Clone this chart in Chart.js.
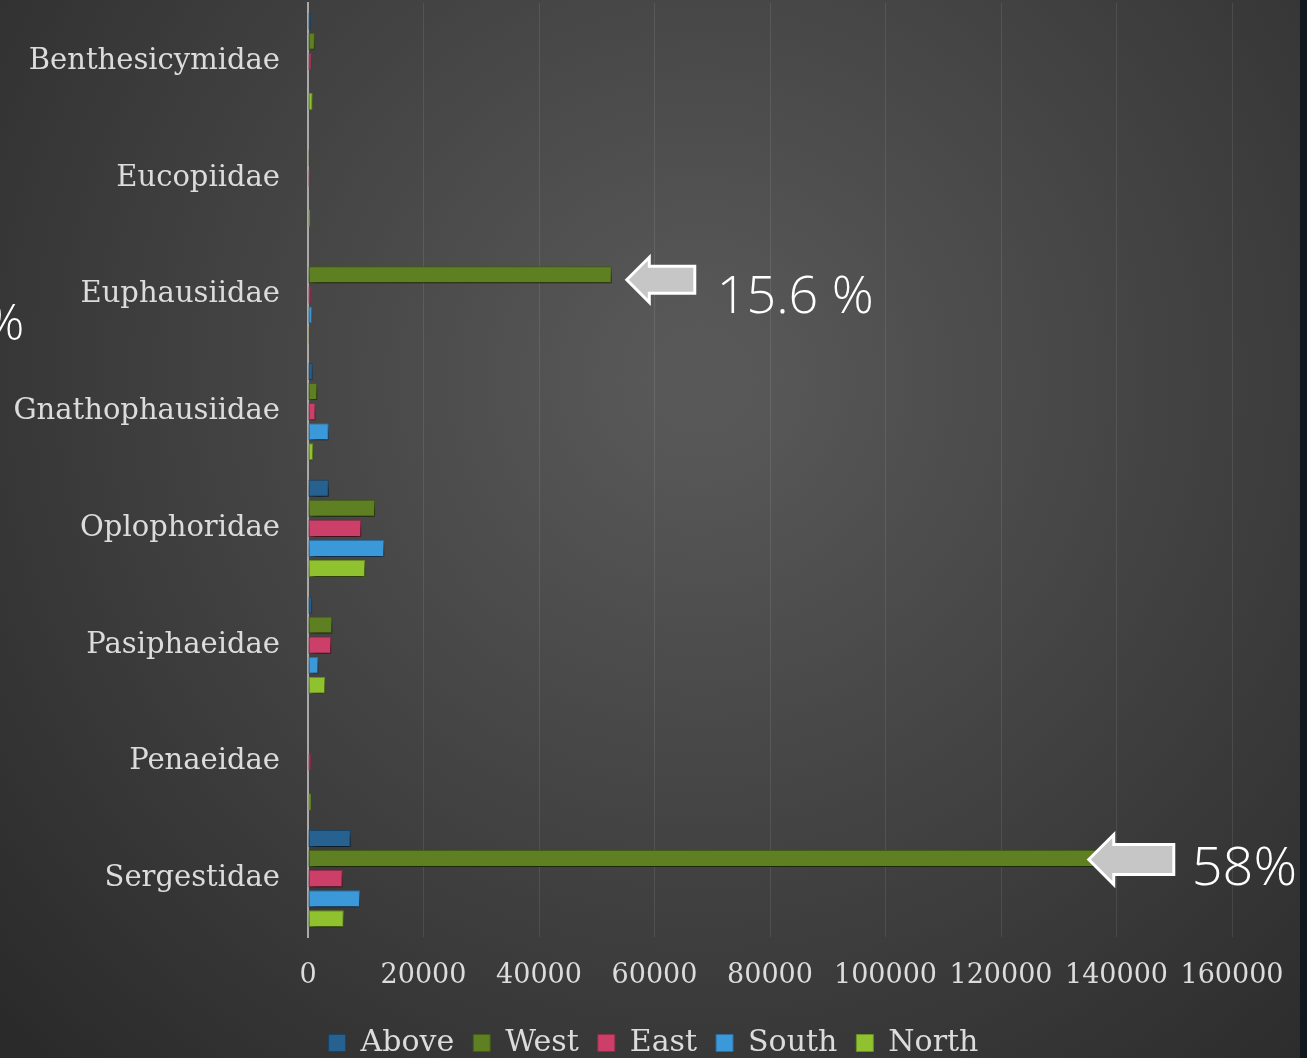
<!DOCTYPE html>
<html>
<head>
<meta charset="utf-8">
<script src="https://cdn.jsdelivr.net/npm/chart.js@4"></script>
<style>
  html, body { margin: 0; padding: 0; background: #3a3a3a; }
  #wrap { width: 1307px; height: 1058px; }
</style>
</head>
<body>
<div id="wrap"><canvas id="display_graph" width="1307" height="1058"></canvas></div>
<script>
// Families of decapods / krill, counts per zone

const families = ["Benthesicymidae", "Eucopiidae", "Euphausiidae", "Gnathophausiidae",
                  "Oplophoridae", "Pasiphaeidae", "Penaeidae", "Sergestidae"];

const above = [500, 100, 100, 800, 3600, 700, 0, 7400];
const west  = [1200, 200, 52600, 1600, 11600, 4200, 100, 139000];
const east  = [600, 400, 500, 1300, 9200, 4000, 500, 6000];
const south = [100, 100, 700, 3600, 13200, 1800, 100, 9000];
const north = [800, 400, 200, 900, 9900, 3000, 500, 6200];

const xTicksMax = 160000;
const xTicksStep = 20000;

// callouts: family index on the West series, arrow tip value, label
const callIdx = [2, 7];
const callTip = [55200, 135200];
const callText = ["15.6 %", "58%"];

const seriesNames = ["Above", "West", "East", "South", "North"];
const seriesColors = ["#27618f", "#5e7f22", "#cc3f68", "#3b98d9", "#90c230"];
const seriesBorders = ["#1a4466", "#425b16", "#952b4b", "#2a6ea0", "#6a9020"];

const txt = "#dcdcdc";

const bgPlugin = {
  id: "bg",
  beforeDraw(chart) {
    const c = chart.ctx;
    const g = c.createRadialGradient(700, 380, 50, 700, 380, 950);
    g.addColorStop(0, "#585858");
    g.addColorStop(1, "#2a2a2a");
    c.save();
    c.fillStyle = g;
    c.fillRect(0, 0, chart.width, chart.height);
    c.fillStyle = "#0f181d";
    c.fillRect(1300, 0, 7, chart.height);
    c.restore();
  }
};

const shadowPlugin = {
  id: "shadow",
  beforeDatasetsDraw(chart) {
    const c = chart.ctx;
    c.save();
    c.shadowColor = "rgba(0,0,0,0.6)";
    c.shadowBlur = 6;
    c.shadowOffsetX = 2;
    c.shadowOffsetY = 6;
  },
  afterDatasetsDraw(chart) {
    chart.ctx.restore();
  }
};

function drawArrow(c, tipX, cy, len, h) {
  const head = h * 0.5;
  const shaft = h * 0.3;
  c.beginPath();
  c.moveTo(tipX, cy);
  c.lineTo(tipX + head, cy - h / 2);
  c.lineTo(tipX + head, cy - shaft);
  c.lineTo(tipX + len, cy - shaft);
  c.lineTo(tipX + len, cy + shaft);
  c.lineTo(tipX + head, cy + shaft);
  c.lineTo(tipX + head, cy + h / 2);
  c.closePath();
  c.fillStyle = "#c6c6c6";
  c.fill();
  c.lineWidth = 3;
  c.strokeStyle = "#ffffff";
  c.stroke();
}

const calloutPlugin = {
  id: "callouts",
  afterDraw(chart) {
    const c = chart.ctx;
    const xs = chart.scales.x;
    const meta = chart.getDatasetMeta(1);
    c.save();
    for (let i = 0; i < callIdx.length; i++) {
      const bar = meta.data[callIdx[i]];
      const tip = xs.getPixelForValue(callTip[i]);
      const big = i === 1;
      const len = big ? 85 : 68;
      const h = big ? 50 : 45;
      const cy = bar.y + (big ? 1 : 5);
      drawArrow(c, tip, cy, len, h);
      c.fillStyle = "#ffffff";
      c.font = "300 " + (big ? "54px" : "52px") + " 'Open Sans', sans-serif";
      c.textAlign = "left";
      c.textBaseline = "alphabetic";
      c.fillText(callText[i], tip + len + (big ? 18 : 22), cy + (big ? 25 : 33));
    }
    // leftover from a neighbouring label, cut by the slide edge
    c.font = "300 50px 'Open Sans', sans-serif";
    c.fillText("%", -16, 340);
    c.restore();
  }
};

const ctx = document.getElementById("display_graph").getContext("2d");

const data = {
  labels: families,
  datasets: [above, west, east, south, north].map((vals, i) => ({
    label: seriesNames[i],
    data: vals,
    backgroundColor: seriesColors[i],
    borderColor: seriesBorders[i],
    borderWidth: 1,
    borderSkipped: false,
    categoryPercentage: 0.86,
    barPercentage: 0.85
  }))
};

const options = {
  indexAxis: "y",
  responsive: false,
  animation: false,
  layout: {
    padding: { top: 3, right: 0, left: 0, bottom: -10 }
  },
  plugins: {
    tooltip: { enabled: false },
    legend: {
      position: "bottom",
      labels: {
        color: txt,
        font: { family: "'DejaVu Serif', serif", size: 30 },
        boxWidth: 17,
        boxHeight: 17,
        padding: 19
      }
    }
  },
  scales: {
    x: {
      min: 0,
      max: xTicksMax,
      ticks: {
        stepSize: xTicksStep,
        color: txt,
        padding: 23,
        font: { family: "'DejaVu Serif', serif", size: 27 },
        maxRotation: 0,
        callback: v => String(v)
      },
      grid: {
        color: "rgba(255,255,255,0.09)",
        drawTicks: false
      },
      border: { display: false },
      afterFit(s) { s.height = 72; s.paddingRight = 75; }
    },
    y: {
      ticks: {
        color: txt,
        padding: 28,
        font: { family: "'DejaVu Serif', serif", size: 29 }
      },
      grid: { display: false, drawTicks: false },
      border: { display: true, color: "#a9a9a9", width: 2 },
      afterFit(s) { s.width = 308; s.paddingTop = 0; s.paddingBottom = 0; }
    }
  }
};

const chart = new Chart(ctx, {
  type: "bar",
  data: data,
  options: options,
  plugins: [bgPlugin, shadowPlugin, calloutPlugin]
});
</script>
</body>
</html>
